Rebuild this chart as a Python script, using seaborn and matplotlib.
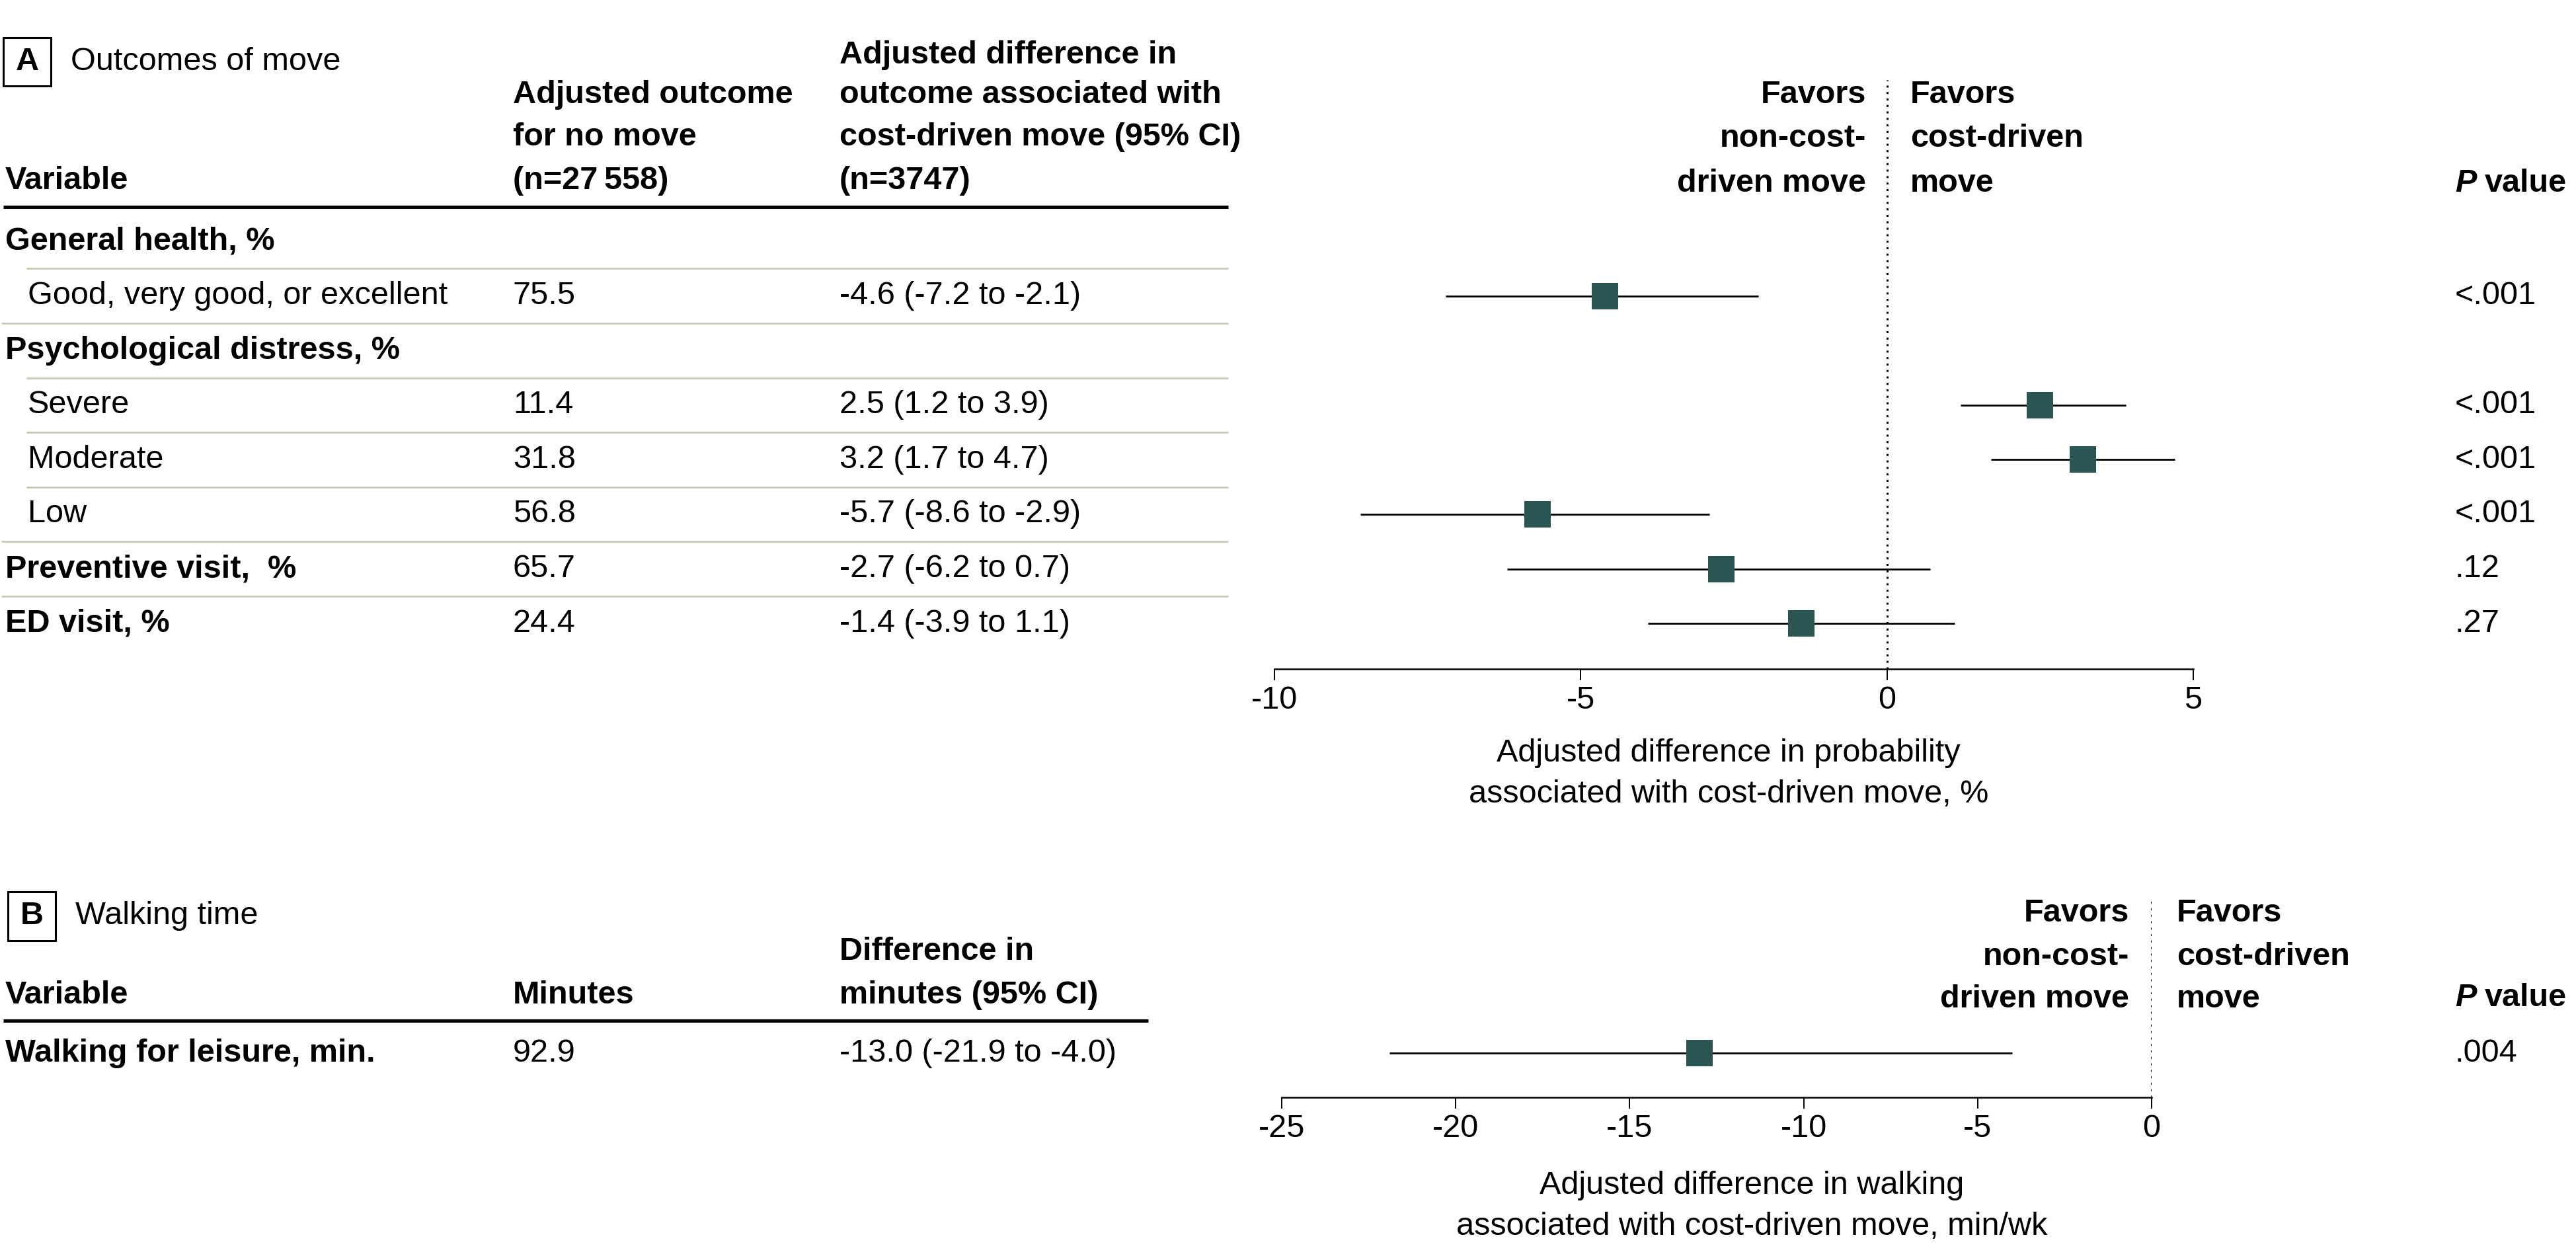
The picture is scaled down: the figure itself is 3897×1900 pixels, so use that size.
import numpy as np
import pandas as pd
import matplotlib
matplotlib.use("Agg")
import matplotlib.pyplot as plt
import seaborn as sns
from matplotlib.patches import Rectangle

# ---- Panel A: outcomes of move ----
a_variables = ["General health, %", "Good, very good, or excellent",
               "Psychological distress, %", "Severe", "Moderate", "Low",
               "Preventive visit,  %", "ED visit, %"]
a_is_sub = [False, True, False, True, True, True, False, False]
a_no_move = [None, 75.5, None, 11.4, 31.8, 56.8, 65.7, 24.4]
a_diff = [None, -4.6, None, 2.5, 3.2, -5.7, -2.7, -1.4]
a_lo = [None, -7.2, None, 1.2, 1.7, -8.6, -6.2, -3.9]
a_hi = [None, -2.1, None, 3.9, 4.7, -2.9, 0.7, 1.1]
a_pvalue = ["", "<.001", "", "<.001", "<.001", "<.001", ".12", ".27"]
a_ticks = [-10, -5, 0, 5]

# ---- Panel B: walking time ----
b_variables = ["Walking for leisure, min."]
b_minutes = [92.9]
b_diff = [-13.0]
b_lo = [-21.9]
b_hi = [-4.0]
b_pvalue = [".004"]
b_ticks = [-25, -20, -15, -10, -5, 0]

W, H, DPI = 3898, 1900, 100
FS = 35
TEAL = "#2a5552"
RULE = "#c9cbb8"
ROW_H = 82.6
COL_VAR, COL_SUB, COL_2, COL_3, COL_P = 8, 42, 776, 1270, 3714

sns.set_theme(style="white")
plt.rcParams["font.family"] = ["Liberation Sans", "DejaVu Sans"]
plt.rcParams["axes.unicode_minus"] = False

fig = plt.figure(figsize=(W / DPI, H / DPI), dpi=DPI)
fig.patch.set_facecolor("white")

# full-figure layer in pixel units for the table part
bg = fig.add_axes([0, 0, 1, 1])
bg.set_xlim(0, W)
bg.set_ylim(H, 0)
bg.axis("off")


def txt(x, y, s, bold=False, ha="left", **kw):
    return bg.text(x, y, s, fontsize=FS, ha=ha, va="center",
                   fontweight="bold" if bold else "normal", color="black", **kw)


def panel_tag(x0, y0, x1, y1, letter, title):
    bg.add_patch(Rectangle((x0, y0), x1 - x0, y1 - y0, fill=False,
                           edgecolor="black", lw=2.2))
    txt((x0 + x1) / 2, (y0 + y1) / 2, letter, bold=True, ha="center")
    txt(x1 + 30, (y0 + y1) / 2, title)


def p_header(x, y):
    t = txt(x, y, "P", bold=True, fontstyle="italic")
    fig.canvas.draw()
    bb = t.get_window_extent(fig.canvas.get_renderer())
    txt(bb.x1 + 12, y, "value", bold=True)


def favors(xr, xl, ys):
    for y, s in zip(ys, ["Favors", "non-cost-", "driven move"]):
        txt(xr, y, s, bold=True, ha="right")
    for y, s in zip(ys, ["Favors", "cost-driven", "move"]):
        txt(xl, y, s, bold=True)


def forest(df, x0, x1, xlim, ticks, top, axis_y, row0):
    ax = fig.add_axes([x0 / W, 1 - axis_y / H, (x1 - x0) / W, (axis_y - top) / H])
    ax.set_facecolor("none")
    ax.axvline(0, color="black", ls=(0, (1, 2.2)), lw=2.2, zorder=1)
    ax.hlines(df["row"], df["lo"], df["hi"], color="black", lw=2.0, zorder=2)
    sns.scatterplot(data=df, x="diff", y="row", marker="s", s=830, color=TEAL,
                    edgecolor="none", linewidth=0, ax=ax, zorder=3, legend=False)
    ax.set_xlim(*xlim)
    ax.set_ylim((axis_y - row0) / ROW_H, (top - row0) / ROW_H)
    for side in ["top", "left", "right"]:
        ax.spines[side].set_visible(False)
    ax.spines["bottom"].set_linewidth(1.8)
    ax.spines["bottom"].set_color("black")
    ax.set_yticks([])
    ax.set_xticks(ticks)
    ax.set_xticklabels([str(t) for t in ticks])
    ax.tick_params(axis="x", bottom=True, direction="out", length=12, width=1.4,
                   color="black", labelsize=FS, pad=6, labelcolor="black")
    ax.set_xlabel("")
    ax.set_ylabel("")
    return ax


# ================= Panel A =================
panel_tag(5, 57, 77, 130, "A", "Outcomes of move")
txt(COL_VAR, 273, "Variable", bold=True)
for y, s in zip([143, 208, 273], ["Adjusted outcome", "for no move", "(n=27\u2009558)"]):
    txt(COL_2, y, s, bold=True)
for y, s in zip([83, 143, 208, 273], ["Adjusted difference in", "outcome associated with",
                                      "cost-driven move (95% CI)", "(n=3747)"]):
    txt(COL_3, y, s, bold=True)
bg.plot([5, 1858], [313, 313], color="black", lw=3.6, solid_capstyle="butt")

row0_a = 365
for i, name in enumerate(a_variables):
    y = row0_a + ROW_H * i
    sub = a_is_sub[i]
    txt(COL_SUB if sub else COL_VAR, y, name, bold=not sub)
    if a_no_move[i] is not None:
        txt(COL_2, y, f"{a_no_move[i]:.1f}")
        txt(COL_3, y, f"{a_diff[i]:.1f} ({a_lo[i]:.1f} to {a_hi[i]:.1f})")
        txt(COL_P, y, a_pvalue[i])
    if i < len(a_variables) - 1:
        yl = y + ROW_H / 2
        xs = 40 if a_is_sub[i + 1] else 2
        bg.plot([xs, 1858], [yl, yl], color=RULE, lw=2.0, solid_capstyle="butt")

df_a = pd.DataFrame({"row": np.arange(len(a_variables)), "diff": a_diff,
                     "lo": a_lo, "hi": a_hi}).dropna()
forest(df_a, 1928, 3318, (-10, 5), a_ticks, 121, 1012, row0_a)
favors(2823, 2890, [143, 210, 277])
p_header(COL_P, 277)
txt(2615, 1139, "Adjusted difference in probability", ha="center")
txt(2615, 1202, "associated with cost-driven move, %", ha="center")

# ================= Panel B =================
panel_tag(12, 1349, 84, 1423, "B", "Walking time")
txt(COL_3, 1440, "Difference in", bold=True)
txt(COL_VAR, 1505, "Variable", bold=True)
txt(COL_2, 1505, "Minutes", bold=True)
txt(COL_3, 1505, "minutes (95% CI)", bold=True)
bg.plot([5, 1737], [1544, 1544], color="black", lw=3.6, solid_capstyle="butt")

row0_b = 1593
for i, name in enumerate(b_variables):
    y = row0_b + ROW_H * i
    txt(COL_VAR, y, name, bold=True)
    txt(COL_2, y, f"{b_minutes[i]:.1f}")
    txt(COL_3, y, f"{b_diff[i]:.1f} ({b_lo[i]:.1f} to {b_hi[i]:.1f})")
    txt(COL_P, y, b_pvalue[i])

df_b = pd.DataFrame({"row": np.arange(len(b_variables)), "diff": b_diff,
                     "lo": b_lo, "hi": b_hi})
forest(df_b, 1939, 3255, (-25, 0), b_ticks, 1357, 1660, row0_b)
favors(3221, 3293, [1382, 1447, 1512])
p_header(COL_P, 1509)
txt(2650, 1794, "Adjusted difference in walking", ha="center")
txt(2650, 1855, "associated with cost-driven move, min/wk", ha="center")

fig.savefig("out.png", dpi=DPI, facecolor="white")
